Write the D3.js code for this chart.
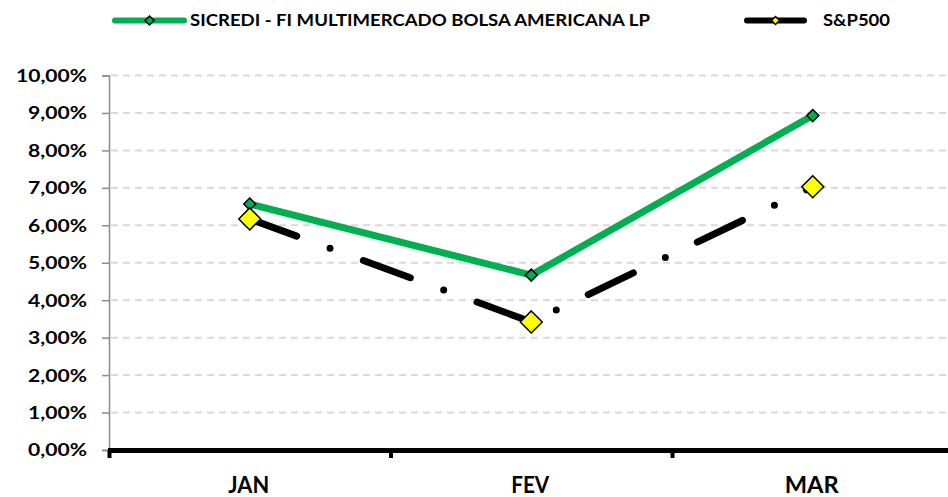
<!DOCTYPE html>
<html>
<head>
<meta charset="utf-8">
<script src="https://cdn.jsdelivr.net/npm/d3@7"></script>
<style>
  html, body { margin: 0; padding: 0; background: #fff; }
  svg { display: block; font-family: Lato, "Open Sans", sans-serif; font-weight: 700; }
</style>
</head>
<body>
<svg id="chart" width="948" height="497"></svg>
<script>
// ---- data ----
const categories = ["JAN", "FEV", "MAR"];
const seriesNames = ["SICREDI - FI MULTIMERCADO BOLSA AMERICANA LP", "S&P500"];
const sicrediValues = [0.0657, 0.0467, 0.0893];
const sp500Values = [0.0617, 0.0342, 0.0703];
const yTickValues = [0, 0.01, 0.02, 0.03, 0.04, 0.05, 0.06, 0.07, 0.08, 0.09, 0.10];

// ---- setup ----
const svg = d3.select("#chart");
const W = 948, H = 497;
const plot = { left: 109, right: 953.5, top: 75.5, bottom: 450 };

const x = d3.scaleBand().domain(categories).range([plot.left, plot.right]).padding(0);
const y = d3.scaleLinear().domain([0, 0.10]).range([plot.bottom, plot.top]);
const cx = c => x(c) + x.bandwidth() / 2;

const locale = d3.formatLocale({ decimal: ",", thousands: ".", grouping: [3], currency: ["R$", ""] });
const pct = locale.format(".2%");

function fitText(sel, target) {
  sel.each(function () {
    const t = typeof target === "function" ? target(d3.select(this).text()) : target;
    d3.select(this).attr("textLength", t).attr("lengthAdjust", "spacingAndGlyphs");
  });
}

// ---- gridlines ----
svg.append("g").selectAll("line")
  .data(yTickValues.filter(v => v > 0))
  .join("line")
  .attr("x1", plot.left + 2).attr("x2", W)
  .attr("y1", d => y(d)).attr("y2", d => y(d))
  .attr("stroke", "#d9d9d9").attr("stroke-width", 2)
  .attr("stroke-dasharray", "7,5");

// ---- y axis ----
const yAxis = d3.axisLeft(y).tickValues(yTickValues).tickFormat(pct).tickSize(7).tickPadding(15);
const gy = svg.append("g").attr("transform", `translate(${plot.left},0)`).call(yAxis);
gy.select(".domain").attr("stroke", "#8c8c8c").attr("stroke-width", 1.5);
gy.selectAll(".tick line").attr("stroke", "#8c8c8c").attr("stroke-width", 1.5);
gy.selectAll(".tick text")
  .attr("fill", "#000").attr("font-size", 16.6).attr("font-family", "Lato, sans-serif").attr("font-weight", 700)
  .attr("dy", "0.36em");
fitText(gy.selectAll(".tick text"), s => s.length === 6 ? 71 : 59);

// ---- series lines ----
const lineGen = d3.line().x((d, i) => cx(categories[i])).y(d => y(d));

svg.append("path").datum(sicrediValues)
  .attr("d", lineGen).attr("fill", "none")
  .attr("stroke", "#00b050").attr("stroke-width", 7).attr("stroke-linejoin", "round");

svg.append("path").datum(sp500Values)
  .attr("d", lineGen).attr("fill", "none")
  .attr("stroke", "#000").attr("stroke-width", 7)
  .attr("stroke-linecap", "round").attr("stroke-linejoin", "round")
  .attr("stroke-dasharray", "50,35.5,0,35.5");

// ---- x axis ----
const gx = svg.append("g");
gx.append("line")
  .attr("x1", plot.left - 1).attr("x2", W)
  .attr("y1", plot.bottom + 0.5).attr("y2", plot.bottom + 0.5)
  .attr("stroke", "#000").attr("stroke-width", 5);
gx.selectAll("line.tk")
  .data(categories)
  .join("line").attr("class", "tk")
  .attr("x1", d => x(d) + 0.5).attr("x2", d => x(d) + 0.5)
  .attr("y1", plot.bottom).attr("y2", plot.bottom + 8)
  .attr("stroke", "#000").attr("stroke-width", 4);
const xl = gx.selectAll("text")
  .data(categories)
  .join("text")
  .attr("x", d => cx(d) - 1).attr("y", 493)
  .attr("text-anchor", "middle")
  .attr("font-size", 22.5).attr("fill", "#000")
  .text(d => d);
const xWidths = { JAN: 41, FEV: 38, MAR: 54 };
fitText(xl, s => xWidths[s]);

// ---- markers ----
const diamond = s => `M0,${-s} L${s},0 L0,${s} L${-s},0 Z`;
svg.append("g").selectAll("path")
  .data(sicrediValues)
  .join("path")
  .attr("transform", (d, i) => `translate(${cx(categories[i])},${y(d)})`)
  .attr("d", diamond(6))
  .attr("fill", "#00b050").attr("stroke", "#000").attr("stroke-width", 1.5);

svg.append("g").selectAll("path")
  .data(sp500Values)
  .join("path")
  .attr("transform", (d, i) => `translate(${cx(categories[i])},${y(d)})`)
  .attr("d", diamond(11))
  .attr("fill", "#ffff00").attr("stroke", "#000").attr("stroke-width", 1.5);

// ---- legend ----
const legend = svg.append("g");
const legendItems = [
  { name: seriesNames[0], color: "#00b050", marker: "#00b050", x1: 112, x2: 187, tx: 190, tw: 460, ms: 4.5 },
  { name: seriesNames[1], color: "#000", marker: "#ffff00", x1: 744, x2: 807, tx: 823, tw: 67, ms: 4 }
];
legendItems.forEach(it => {
  legend.append("line")
    .attr("x1", it.x1 + 3).attr("x2", it.x2 - 3).attr("y1", 20.5).attr("y2", 20.5)
    .attr("stroke", it.color).attr("stroke-width", 6).attr("stroke-linecap", "round");
  legend.append("path")
    .attr("transform", `translate(${(it.x1 + it.x2) / 2},20.5)`)
    .attr("d", diamond(it.ms))
    .attr("fill", it.marker).attr("stroke", "#000").attr("stroke-width", 1.5);
  legend.append("text")
    .attr("x", it.tx).attr("y", 26)
    .attr("font-size", 16.2).attr("fill", "#000")
    .attr("textLength", it.tw).attr("lengthAdjust", "spacingAndGlyphs")
    .text(it.name);
});
</script>
</body>
</html>
